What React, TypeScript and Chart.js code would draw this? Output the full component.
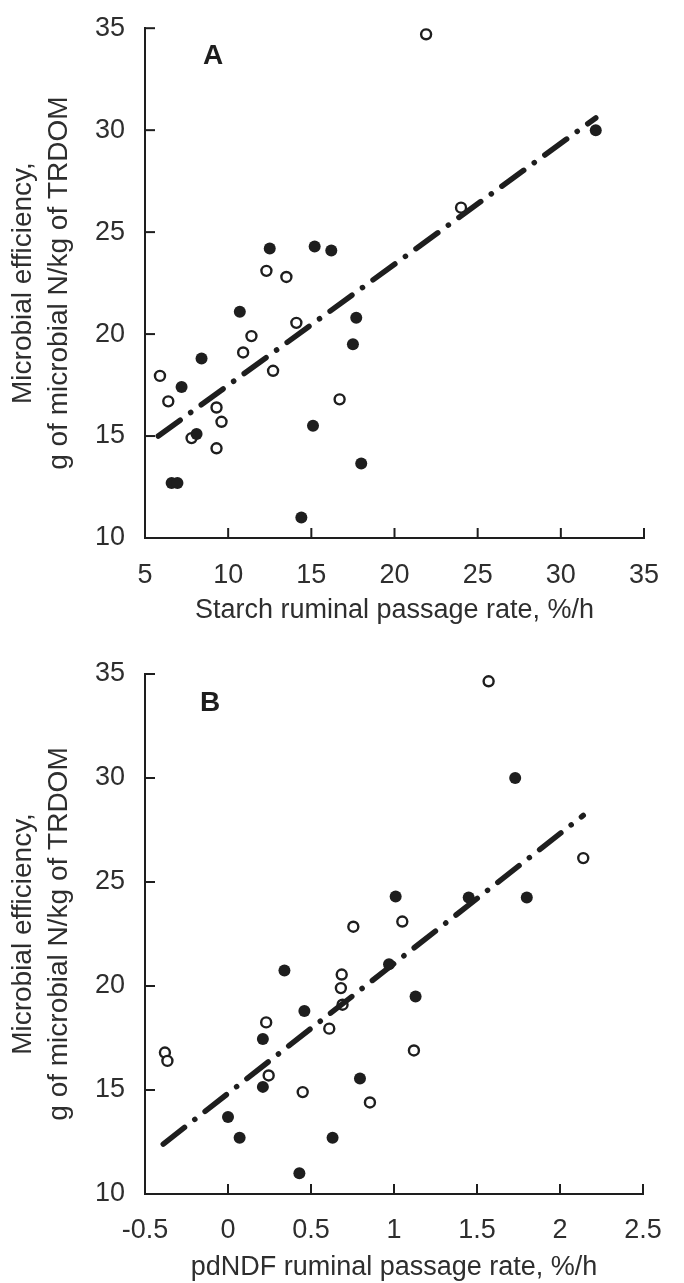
import React, { useEffect, useRef } from 'react';
import { Chart, registerables } from 'chart.js';

Chart.register(...registerables);

const FONT = '"Liberation Sans", Arial, Helvetica, sans-serif';
const INK = '#1e1e1e';
const TEXT = '#2e2e2e';

// ---- Panel A: starch ----
const starchFilledX = [32.1, 12.5, 15.2, 16.2, 10.7, 17.7, 17.5, 8.4, 7.2, 15.1, 8.1, 18.0, 6.6, 6.95, 14.4];
const starchFilledY = [30.0, 24.2, 24.3, 24.1, 21.1, 20.8, 19.5, 18.8, 17.4, 15.5, 15.1, 13.65, 12.7, 12.7, 11.0];
const starchOpenX = [21.9, 24.0, 12.3, 13.5, 14.1, 11.4, 10.9, 12.7, 5.9, 6.4, 16.7, 9.3, 9.6, 7.8, 9.3];
const starchOpenY = [34.7, 26.2, 23.1, 22.8, 20.55, 19.9, 19.1, 18.2, 17.95, 16.7, 16.8, 16.4, 15.7, 14.9, 14.4];
const starchFitX = [5.8, 32.1];
const starchFitY = [15.0, 30.6];
const starchTicksX = [5, 10, 15, 20, 25, 30, 35];
const starchTickLabels = ['5', '10', '15', '20', '25', '30', '35'];

// ---- Panel B: pdNDF ----
const ndfFilledX = [1.73, 1.01, 1.8, 1.45, 0.34, 0.97, 1.13, 0.46, 0.21, 0.795, 0.21, 0.0, 0.07, 0.63, 0.43];
const ndfFilledY = [30.0, 24.3, 24.25, 24.25, 20.75, 21.05, 19.5, 18.8, 17.45, 15.55, 15.15, 13.7, 12.7, 12.7, 11.0];
const ndfOpenX = [1.57, 2.14, 1.05, 0.755, 0.685, 0.68, 0.69, 0.23, 0.61, -0.38, -0.365, 1.12, 0.245, 0.45, 0.855];
const ndfOpenY = [34.65, 26.15, 23.1, 22.85, 20.55, 19.9, 19.1, 18.25, 17.95, 16.8, 16.4, 16.9, 15.7, 14.9, 14.4];
const ndfFitX = [-0.39, 2.14];
const ndfFitY = [12.4, 28.2];
const ndfTicksX = [-0.5, 0, 0.5, 1, 1.5, 2, 2.5];
const ndfTickLabels = ['-0.5', '0', '0.5', '1', '1.5', '2', '2.5'];

const effTicksY = [10, 15, 20, 25, 30, 35];
const effTickLabels = ['10', '15', '20', '25', '30', '35'];
const yTitle = ['Microbial efficiency,', 'g of microbial N/kg of TRDOM'];

const zip = (xs: number[], ys: number[]) => xs.map((x, i) => ({ x, y: ys[i] }));

const inwardTicks = {
  id: 'inwardTicks',
  afterDraw(chart: any) {
    const { ctx, scales } = chart;
    const xs = scales.x;
    const ys = scales.y;
    ctx.save();
    ctx.strokeStyle = INK;
    ctx.lineWidth = 2;
    const len = 10;
    xs.ticks.forEach((t: any) => {
      const px = xs.getPixelForValue(t.value);
      ctx.beginPath();
      ctx.moveTo(px, ys.bottom);
      ctx.lineTo(px, ys.bottom - len);
      ctx.stroke();
    });
    ys.ticks.forEach((t: any) => {
      const py = ys.getPixelForValue(t.value);
      ctx.beginPath();
      ctx.moveTo(xs.left, py);
      ctx.lineTo(xs.left + len, py);
      ctx.stroke();
    });
    ctx.restore();
  },
};

const panelLabel = {
  id: 'panelLabel',
  afterDraw(chart: any, _args: any, opts: any) {
    if (!opts || !opts.text) return;
    const { ctx, chartArea } = chart;
    ctx.save();
    ctx.fillStyle = INK;
    ctx.font = `bold 28px ${FONT}`;
    ctx.textAlign = 'center';
    ctx.textBaseline = 'middle';
    ctx.fillText(opts.text, chartArea.left + opts.dx, chartArea.top + opts.dy);
    ctx.restore();
  },
};

type PanelProps = {
  height: number;
  filled: { x: number; y: number }[];
  open: { x: number; y: number }[];
  fit: { x: number; y: number }[];
  xTicks: number[];
  xLabels: string[];
  xTitle: string;
  letter: string;
  letterDx: number;
  letterDy: number;
  padTop: number;
  padRight: number;
  xAxisHeight: number;
  xTickPad: number;
  xTitlePad: number;
};

function Panel(p: PanelProps) {
  const ref = useRef<HTMLCanvasElement>(null);
  useEffect(() => {
    if (!ref.current) return;
    const xMin = p.xTicks[0];
    const xMax = p.xTicks[p.xTicks.length - 1];
    const chart = new Chart(ref.current, {
      type: 'scatter',
      data: {
        datasets: [
          {
            type: 'line',
            data: p.fit,
            borderColor: INK,
            borderWidth: 5.5,
            borderDash: [27, 13, 0.1, 13],
            borderCapStyle: 'round',
            pointRadius: 0,
            fill: false,
            tension: 0,
          } as any,
          {
            data: p.filled,
            pointRadius: 6,
            pointBackgroundColor: INK,
            pointBorderColor: INK,
            pointBorderWidth: 0,
          },
          {
            data: p.open,
            pointRadius: 5,
            pointBackgroundColor: '#ffffff',
            pointBorderColor: INK,
            pointBorderWidth: 2.4,
          },
        ],
      },
      options: {
        responsive: false,
        animation: false,
        events: [],
        layout: { padding: { top: p.padTop, right: p.padRight, left: 0, bottom: 0 } },
        plugins: {
          legend: { display: false },
          tooltip: { enabled: false },
          panelLabel: { text: p.letter, dx: p.letterDx, dy: p.letterDy },
        } as any,
        scales: {
          x: {
            type: 'linear',
            min: xMin,
            max: xMax,
            grid: { display: false },
            border: { display: true, color: INK, width: 2 },
            afterBuildTicks: (s: any) => {
              s.ticks = p.xTicks.map((v) => ({ value: v }));
            },
            afterFit: (s: any) => {
              s.height = p.xAxisHeight;
            },
            ticks: {
              color: TEXT,
              padding: p.xTickPad,
              font: { family: FONT, size: 27 },
              maxRotation: 0,
              autoSkip: false,
              callback: (_v: any, i: number) => p.xLabels[i],
            },
            title: {
              display: true,
              text: p.xTitle,
              color: TEXT,
              font: { family: FONT, size: 27, lineHeight: 1 },
              padding: { top: 0, bottom: p.xTitlePad },
            },
          },
          y: {
            type: 'linear',
            min: effTicksY[0],
            max: effTicksY[effTicksY.length - 1],
            grid: { display: false },
            border: { display: true, color: INK, width: 2 },
            afterBuildTicks: (s: any) => {
              s.ticks = effTicksY.map((v) => ({ value: v }));
            },
            afterFit: (s: any) => {
              s.width = 145;
            },
            ticks: {
              color: TEXT,
              padding: 12,
              font: { family: FONT, size: 27 },
              autoSkip: false,
              callback: (_v: any, i: number) => effTickLabels[i],
            },
            title: {
              display: true,
              text: yTitle,
              color: TEXT,
              font: { family: FONT, size: 28, lineHeight: 1.29 },
              padding: { top: 5, bottom: 0 },
            },
          },
        },
      },
      plugins: [inwardTicks, panelLabel],
    } as any);
    return () => chart.destroy();
  }, []);
  return <canvas ref={ref} width={684} height={p.height} style={{ display: 'block' }} />;
}

export default function App() {
  return (
    <div style={{ position: 'absolute', left: 0, top: 0, width: 684, height: 1283, background: '#fff' }}>
      <Panel
        height={640}
        filled={zip(starchFilledX, starchFilledY)}
        open={zip(starchOpenX, starchOpenY)}
        fit={zip(starchFitX, starchFitY)}
        xTicks={starchTicksX}
        xLabels={starchTickLabels}
        xTitle="Starch ruminal passage rate, %/h"
        letter="A"
        letterDx={68}
        letterDy={28}
        padTop={20}
        padRight={40}
        xAxisHeight={102}
        xTickPad={13}
        xTitlePad={16}
      />
      <Panel
        height={643}
        filled={zip(ndfFilledX, ndfFilledY)}
        open={zip(ndfOpenX, ndfOpenY)}
        fit={zip(ndfFitX, ndfFitY)}
        xTicks={ndfTicksX}
        xLabels={ndfTickLabels}
        xTitle="pdNDF ruminal passage rate, %/h"
        letter="B"
        letterDx={65}
        letterDy={29}
        padTop={34}
        padRight={41}
        xAxisHeight={89}
        xTickPad={12}
        xTitlePad={2}
      />
    </div>
  );
}
